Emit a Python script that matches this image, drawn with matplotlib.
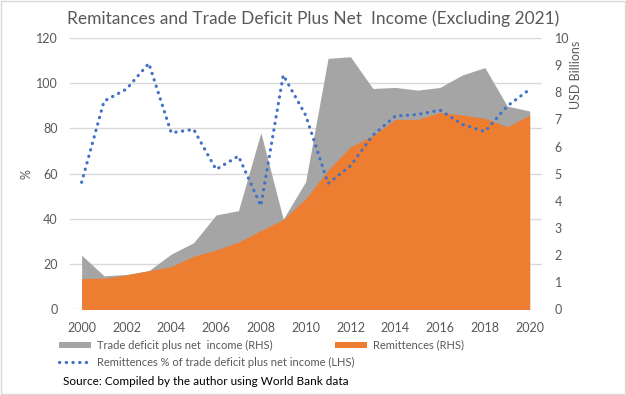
import matplotlib
matplotlib.use('Agg')
import matplotlib.pyplot as plt
from matplotlib.patches import Patch, Rectangle
from matplotlib.lines import Line2D

plt.rcParams['font.family'] = ['Lato', 'DejaVu Sans']

# data
years = list(range(2000, 2021))
trade_deficit = [2.00, 1.24, 1.29, 1.43, 2.04, 2.46, 3.48, 3.64, 6.51, 3.33, 4.71,
                 9.25, 9.31, 8.14, 8.18, 8.08, 8.18, 8.64, 8.91, 7.49, 7.31]
remittances = [1.14, 1.15, 1.27, 1.43, 1.58, 1.96, 2.19, 2.48, 2.91, 3.31, 4.08,
               5.13, 5.99, 6.40, 7.00, 7.00, 7.26, 7.16, 7.04, 6.73, 7.16]
remit_pct = [56.2, 92.1, 97.4, 108.8, 78.1, 79.6, 61.9, 67.8, 45.8, 103.6, 85.9,
             55.7, 63.5, 77.0, 85.5, 86.2, 88.1, 81.8, 78.6, 89.9, 97.3]
left_ticks = [0, 20, 40, 60, 80, 100, 120]
right_ticks = list(range(0, 11))
x_ticks = list(range(2000, 2021, 2))

GRAY = '#A5A5A5'
ORANGE = '#ED7D31'
BLUE = '#4472C4'
TXT = '#595959'
GRID = '#D9D9D9'

fig = plt.figure(figsize=(6.26, 3.95), dpi=100)
pos = [0.1118, 0.2165, 0.754, 0.6873]
ax = fig.add_axes(pos)

# left axis: percentages, gridlines
ax.set_ylim(0, 120)
ax.set_yticks(left_ticks)
ax.set_xlim(1999.48, 2020.55)
ax.set_xticks(x_ticks)
ax.grid(axis='y', color=GRID, linewidth=1)
ax.set_axisbelow(True)
ax.tick_params(length=0, labelsize=9, labelcolor=TXT, pad=9)
for s in ax.spines.values():
    s.set_visible(False)

# right axis: areas
ax2 = ax.twinx()
ax2.fill_between(years, trade_deficit, color=GRAY, linewidth=0)
ax2.fill_between(years, remittances, color=ORANGE, linewidth=0)
ax2.set_ylim(0, 10)
ax2.set_yticks(right_ticks)
ax2.tick_params(length=0, labelsize=9, labelcolor=TXT, pad=9)
for s in ax2.spines.values():
    s.set_visible(False)

# overlay axis for the dotted line (LHS scale), drawn above the areas
ax3 = fig.add_axes(pos, sharex=ax)
ax3.patch.set_visible(False)
ax3.plot(years, remit_pct, color=BLUE, linewidth=2.3,
         linestyle=(0, (0.1, 2.0)), dash_capstyle='round')
ax3.set_ylim(0, 120)
ax3.axis('off')

fig.text(0.5, 0.952, 'Remitances and Trade Deficit Plus Net  Income (Excluding 2021)',
         ha='center', va='center', fontsize=12.5, color=TXT)
fig.text(0.043, 0.56, '%', rotation=90, ha='center', va='center', fontsize=9, color=TXT)
fig.text(0.92, 0.81, 'USD Billions', rotation=90, ha='center', va='center',
         fontsize=9, color=TXT)

h_gray = Patch(facecolor=GRAY, edgecolor='none')
h_orange = Patch(facecolor=ORANGE, edgecolor='none')
h_line = Line2D([0], [0], color=BLUE, linewidth=2.3,
                linestyle=(0, (0.1, 2.0)), dash_capstyle='round')
leg_kw = dict(frameon=False, fontsize=8, handlelength=2.9, handleheight=0.5,
              handletextpad=0.5, labelspacing=0.55, borderaxespad=0,
              borderpad=0, labelcolor=TXT)
fig.legend([h_gray, h_line],
           ['Trade deficit plus net  income (RHS)',
            'Remittences % of trade deficit plus net income (LHS)'],
           loc='upper left', bbox_to_anchor=(0.094, 0.14), **leg_kw)
fig.legend([h_orange], ['Remittences (RHS)'],
           loc='upper left', bbox_to_anchor=(0.535, 0.14), **leg_kw)
fig.text(0.1, 0.035, 'Source: Compiled by the author using World Bank data',
         ha='left', va='center', fontsize=8.5, color='black')

fig.add_artist(Rectangle((0.001, 0.002), 0.997, 0.996, transform=fig.transFigure,
                         fill=False, edgecolor=GRID, linewidth=1))

fig.savefig('out.png', dpi=100)
